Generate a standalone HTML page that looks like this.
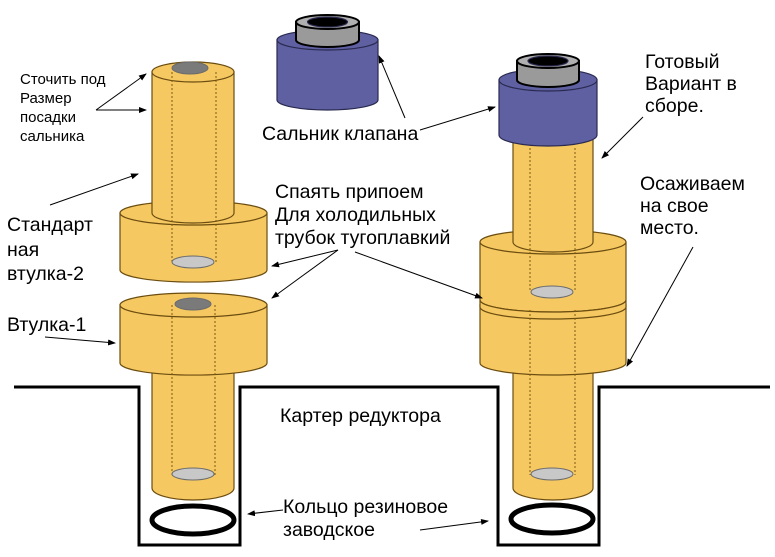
<!DOCTYPE html>
<html><head><meta charset="utf-8"><style>
html,body{margin:0;padding:0;background:#fff}
svg{display:block}
text{font-family:"Liberation Sans",Arial,sans-serif;fill:#000}
</style></head><body>
<svg width="775" height="557" viewBox="0 0 775 557" xmlns="http://www.w3.org/2000/svg">
<defs>
<marker id="a" markerWidth="8" markerHeight="6" refX="7" refY="3" orient="auto" markerUnits="userSpaceOnUse"><path d="M0,0 L8,3 L0,6 Z" fill="#000"/></marker>
</defs>
<g stroke="#6b4d10" stroke-width="1.2" fill="#f6c862">
<path d="M120,213 L120,270 A73,12 0 0 0 267,270 L267,213 Z"/>
<ellipse cx="193.5" cy="213" rx="73.5" ry="12"/>
<path d="M152,72 L152,213 A41,10 0 0 0 234,213 L234,72 Z"/>
<ellipse cx="193" cy="72" rx="41" ry="10"/>
<path d="M152,360 L152,488 A41,12 0 0 0 234,488 L234,360 Z"/>
<path d="M120,305 L120,363 A73,12 0 0 0 267,363 L267,305 Z"/>
<ellipse cx="193.5" cy="305" rx="73.5" ry="12"/>
<path d="M513,360 L513,488 A40,12 0 0 0 593,488 L593,360 Z"/>
<path d="M480,305 L480,363 A73,12 0 0 0 626,363 L626,305 Z"/>
<path d="M480,242 L480,300 A73,12 0 0 0 626,300 L626,242 Z"/>
<path d="M480,300 A73,12 0 0 0 626,300 L626,307 A73,12 0 0 1 480,307 Z" fill="#f6c862"/>
<ellipse cx="553" cy="242" rx="73" ry="12"/>
<path d="M513,135 L513,242 A40,10 0 0 0 593,242 L593,135 Z"/>
</g>
<g stroke="#7a5a10" stroke-width="1" stroke-dasharray="2,2" fill="none">
<line x1="172" y1="72" x2="172" y2="262"/><line x1="216" y1="72" x2="216" y2="262"/>
<line x1="172" y1="305" x2="172" y2="475"/><line x1="215" y1="305" x2="215" y2="475"/>
<line x1="530" y1="148" x2="530" y2="292"/><line x1="575" y1="148" x2="575" y2="292"/>
<line x1="530" y1="310" x2="530" y2="475"/><line x1="575" y1="310" x2="575" y2="475"/>
</g>
<g stroke="#6b6b6b" stroke-width="1">
<ellipse cx="190" cy="68" rx="18" ry="6" fill="#7a7a7a"/>
<ellipse cx="193" cy="262" rx="21" ry="6" fill="#c8c8c8"/>
<ellipse cx="193" cy="304" rx="18" ry="6" fill="#7a7a7a"/>
<ellipse cx="193" cy="474" rx="21" ry="6" fill="#c8c8c8"/>
<ellipse cx="552" cy="292" rx="21" ry="6" fill="#c8c8c8"/>
<ellipse cx="552" cy="474" rx="21" ry="6" fill="#c8c8c8"/>
</g>
<g stroke="#2a2a50" stroke-width="1.2">
<path d="M277,40 L277,100 A50.5,10 0 0 0 378,100 L378,40 Z" fill="#5e60a2"/>
<ellipse cx="327.5" cy="40" rx="50.5" ry="10" fill="#5e60a2"/>
<path d="M296,22 L296,40 A31.5,7 0 0 0 359,40 L359,22 Z" fill="#9a9a9a" stroke="#000" stroke-width="2"/>
<ellipse cx="327.5" cy="22" rx="31.5" ry="7" fill="#b0b0b0" stroke="#000" stroke-width="2"/>
<ellipse cx="327.5" cy="22" rx="20" ry="5" fill="#000"/>
<path d="M499,80 L499,135 A49,11 0 0 0 597,135 L597,80 Z" fill="#5e60a2"/>
<ellipse cx="548" cy="80" rx="49" ry="11" fill="#5e60a2"/>
<path d="M517,61 L517,80 A31,7 0 0 0 579,80 L579,61 Z" fill="#9a9a9a" stroke="#000" stroke-width="2"/>
<ellipse cx="548" cy="61" rx="31" ry="7" fill="#b0b0b0" stroke="#000" stroke-width="2"/>
<ellipse cx="548" cy="61" rx="20" ry="5" fill="#000"/>
</g>
<path d="M14,387 L139,387 L139,545 L240,545 L240,387 L498,387 L498,545 L599,545 L599,387 L770,387" fill="none" stroke="#000" stroke-width="3"/>
<ellipse cx="193" cy="520" rx="41" ry="14" fill="none" stroke="#000" stroke-width="5"/>
<ellipse cx="552" cy="519" rx="41" ry="14" fill="none" stroke="#000" stroke-width="5"/>
<g stroke="#000" stroke-width="1" marker-end="url(#a)">
<line x1="96" y1="110" x2="146" y2="74"/>
<line x1="96" y1="110" x2="146" y2="110"/>
<line x1="50" y1="205" x2="138" y2="174"/>
<line x1="45" y1="337" x2="115" y2="343"/>
<line x1="405" y1="118" x2="379" y2="56"/>
<line x1="420" y1="130" x2="495" y2="107"/>
<line x1="643" y1="117" x2="602" y2="158"/>
<line x1="693" y1="247" x2="627" y2="366"/>
<line x1="338" y1="250" x2="272" y2="266"/>
<line x1="338" y1="250" x2="272" y2="298"/>
<line x1="355" y1="252" x2="482" y2="298"/>
<line x1="283" y1="510" x2="248" y2="514"/>
<line x1="420" y1="530" x2="488" y2="521"/>
</g>
<g font-size="15">
<text x="20" y="84">Сточить под</text>
<text x="20" y="103">Размер</text>
<text x="20" y="122">посадки</text>
<text x="20" y="141">сальника</text>
</g>
<g font-size="19.5">
<text x="7" y="231">Стандарт</text>
<text x="7" y="256">ная</text>
<text x="7" y="280">втулка-2</text>
<text x="7" y="331">Втулка-1</text>
<text x="262" y="140">Сальник клапана</text>
<text x="275" y="198">Спаять припоем</text>
<text x="275" y="221">Для холодильных</text>
<text x="275" y="244">трубок тугоплавкий</text>
<text x="645" y="68">Готовый</text>
<text x="645" y="90">Вариант в</text>
<text x="645" y="112">сборе.</text>
<text x="640" y="190">Осаживаем</text>
<text x="640" y="212">на свое</text>
<text x="640" y="234">место.</text>
<text x="280" y="422">Картер редуктора</text>
<text x="283" y="513">Кольцо резиновое</text>
<text x="283" y="536">заводское</text>
</g>
</svg>
</body></html>
